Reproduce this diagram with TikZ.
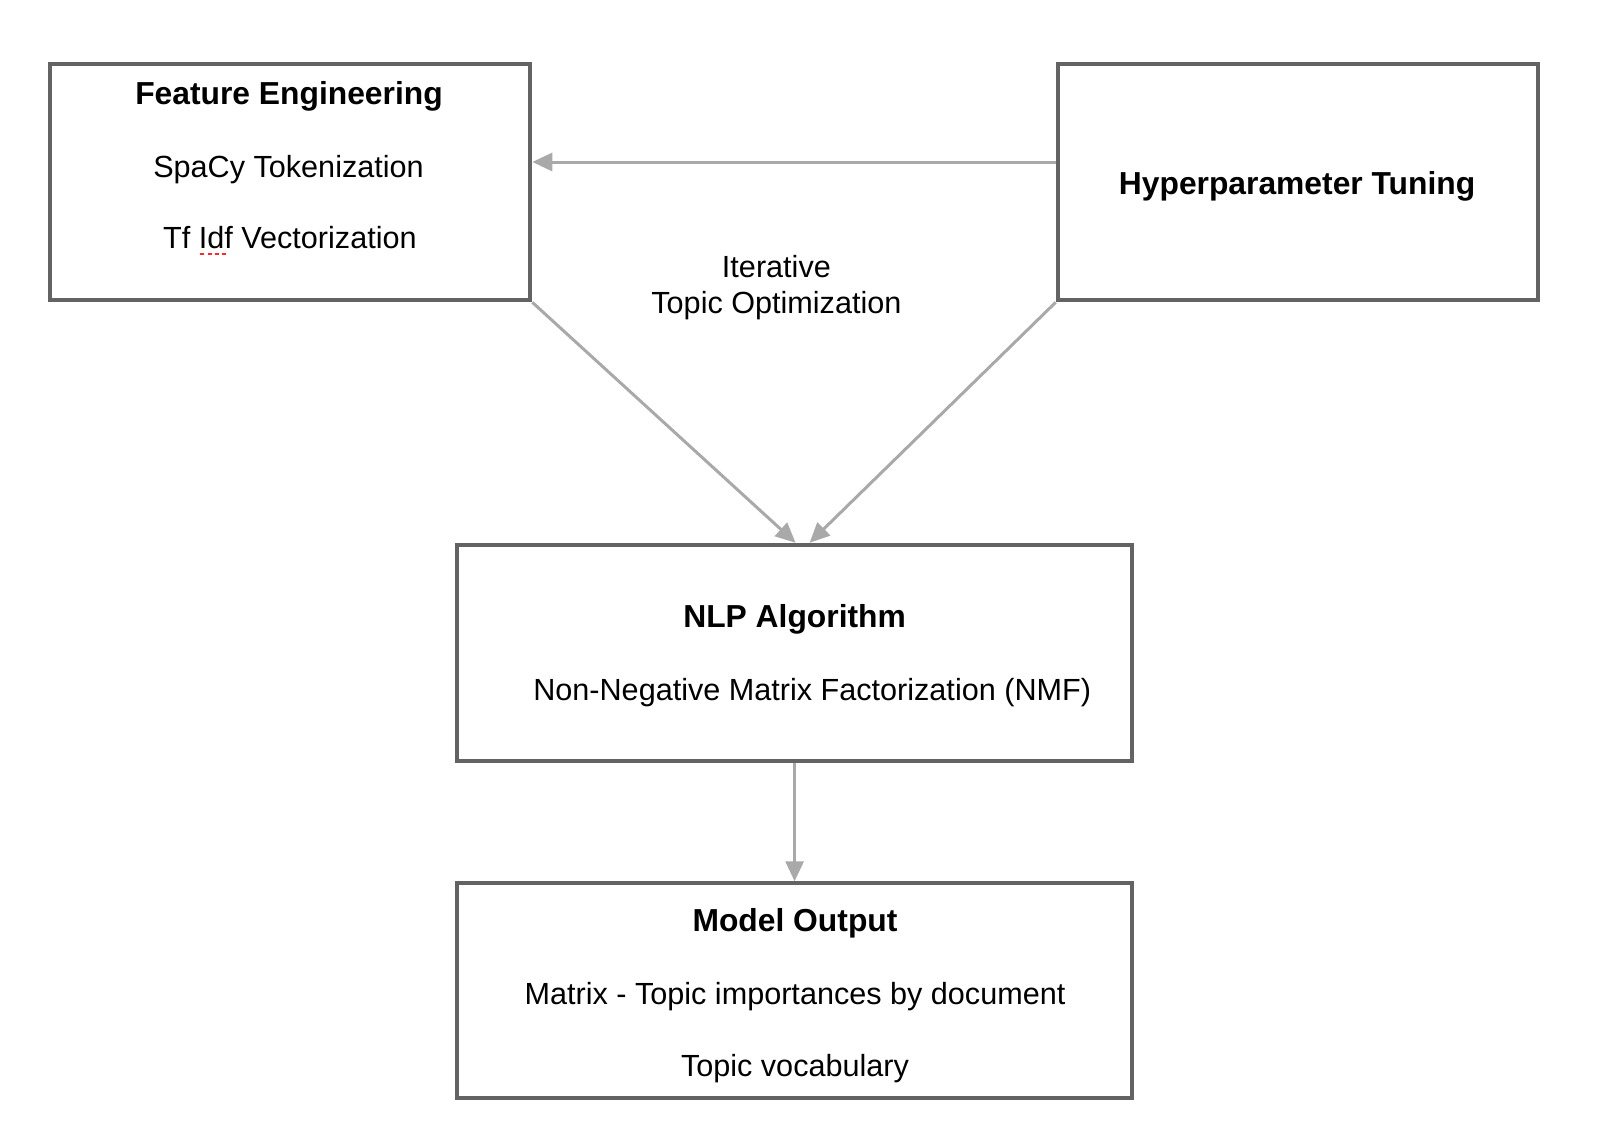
\documentclass[tikz,border=0pt]{standalone}
\usepackage{fontspec}
\setmainfont{Liberation Sans}
\usetikzlibrary{arrows.meta,calc}
\definecolor{boxgray}{HTML}{636363}
\definecolor{arrgray}{HTML}{A9A9A9}
\newcommand\spellmark[1]{\setbox0\hbox{#1}\leavevmode\rlap{\raisebox{-3.6pt}{\color{red!85}\hbox to \wd0{\leaders\hbox to 3.6pt{\hss\rule{2pt}{1.1pt}\hss}\hfill}}}\box0\relax}
\tikzset{
  box/.style={draw=boxgray, line width=2pt, inner sep=0pt, fill=none},
  arr/.style={draw=arrgray, line width=1.5pt, -{Triangle[length=10pt,width=9pt]}},
  ttl/.style={font=\fontsize{15.9}{18}\selectfont\bfseries, inner sep=0pt, anchor=center},
  txt/.style={font=\fontsize{15.3}{18}\selectfont, inner sep=0pt, anchor=center}
}
\begin{document}
\begin{tikzpicture}[x=0.5pt,y=-0.5pt]
\useasboundingbox (0,0) rectangle (1618,1124);
% boxes
\node[box, minimum width=240.3pt, minimum height=118.2pt] (fe) at (290.0,182.1) {};
\node[box, minimum width=240.0pt, minimum height=118.2pt] (ht) at (1297.7,182.1) {};
\node[box, minimum width=337.5pt, minimum height=107.9pt] (nlp) at (794.6,652.7) {};
\node[box, minimum width=337.5pt, minimum height=107.4pt] (mo) at (794.6,990.7) {};
% texts
\node[ttl] (fet) at (289.0,96.4) {Feature Engineering};
\node[txt] (fe1) at (288.5,169.1) {SpaCy Tokenization};
\node[txt] (fe2) at (289.9,240.7) {Tf \spellmark{Idf} Vectorization};
\node[ttl] (htt) at (1297.1,186.7) {Hyperparameter Tuning};
\node[txt] (it1) at (776.4,266.6) {Iterative};
\node[txt] (it2) at (776.4,306.0) {Topic Optimization};
\node[ttl] (nlpt) at (794.6,619.2) {NLP Algorithm};
\node[txt] (nlp1) at (812.2,692.9) {Non-Negative Matrix Factorization (NMF)};
\node[ttl] (mot) at (795.0,923.1) {Model Output};
\node[txt] (mo1) at (795.0,996.8) {Matrix - Topic importances by document};
\node[txt] (mo2) at (795.0,1068.3) {Topic vocabulary};
% connectors
\coordinate (hy) at (0,162.0);
\coordinate (tipl) at ($(nlp.north)+(1,0)$);
\coordinate (tipr) at ($(nlp.north)+(15,0)$);
\draw[arr] (ht.west |- hy) -- (fe.east |- hy);
\draw[arr] (fe.south east) -- (tipl);
\draw[arr] (ht.south west) -- (tipr);
\draw[arr] (nlp.south) -- (mo.north);
\end{tikzpicture}
\end{document}
